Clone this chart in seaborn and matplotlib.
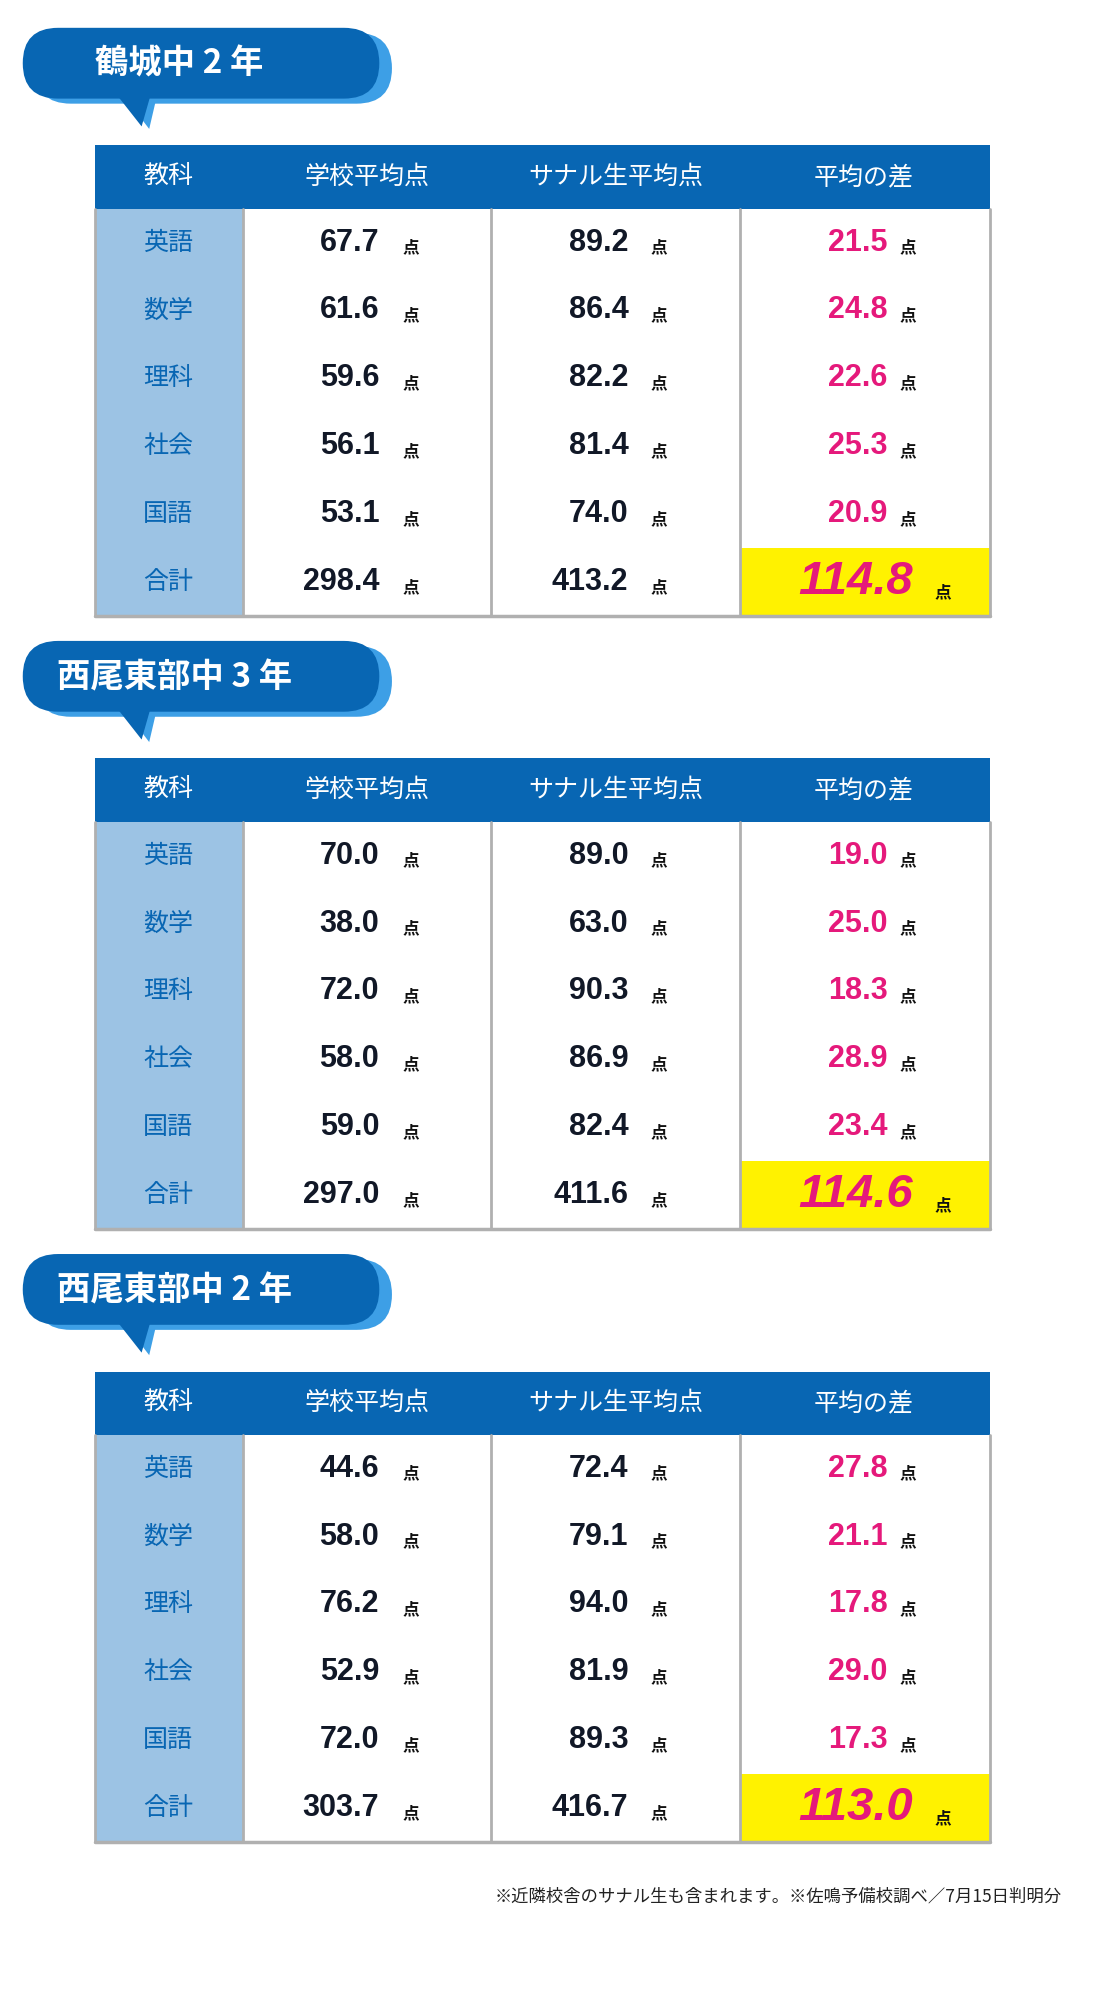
import matplotlib
matplotlib.use("Agg")
import matplotlib.pyplot as plt
import seaborn as sns
from matplotlib.patches import Rectangle, FancyBboxPatch, Polygon

sns.set_theme(style="white")
plt.rcParams['font.family'] = ['Noto Sans CJK JP', 'DejaVu Sans']

titles = ["鶴城中 2 年", "西尾東部中 3 年", "西尾東部中 2 年"]
headers = ["教科", "学校平均点", "サナル生平均点", "平均の差"]
subjects = ["英語", "数学", "理科", "社会", "国語", "合計"]
school_avg = [[67.7, 61.6, 59.6, 56.1, 53.1, 298.4],
              [70.0, 38.0, 72.0, 58.0, 59.0, 297.0],
              [44.6, 58.0, 76.2, 52.9, 72.0, 303.7]]
sanaru_avg = [[89.2, 86.4, 82.2, 81.4, 74.0, 413.2],
              [89.0, 63.0, 90.3, 86.9, 82.4, 411.6],
              [72.4, 79.1, 94.0, 81.9, 89.3, 416.7]]
diff = [[21.5, 24.8, 22.6, 25.3, 20.9, 114.8],
        [19.0, 25.0, 18.3, 28.9, 23.4, 114.6],
        [27.8, 21.1, 17.8, 29.0, 17.3, 113.0]]
footnote = "※近隣校舎のサナル生も含まれます。※佐鳴予備校調べ／7月15日判明分"

W, H = 870, 1575
fig = plt.figure(figsize=(11, 19.91), dpi=100)
ax = fig.add_axes([0, 0, 1, 1])
ax.set_xlim(0, W); ax.set_ylim(H, 0); ax.axis('off')

BLUE = "#0866b3"; LIGHT = "#3d9fe6"; SUBJ = "#9cc3e4"; PINK = "#e5197b"; GRID = "#b0b0b0"
cols = [75, 192, 388, 585, 783]
num = ['Liberation Sans', 'DejaVu Sans']

for t in range(3):
    by = 22 + t * 485
    # bubble
    ax.add_patch(FancyBboxPatch((28, by + 4), 282, 56, boxstyle="round,pad=0,rounding_size=28", fc=LIGHT, ec='none'))
    ax.add_patch(Polygon([[95, by + 50], [125, by + 50], [118, by + 80]], closed=True, fc=LIGHT, ec='none'))
    ax.add_patch(Polygon([[90, by + 50], [120, by + 50], [112, by + 78]], closed=True, fc=BLUE, ec='none'))
    ax.add_patch(FancyBboxPatch((18, by), 282, 56, boxstyle="round,pad=0,rounding_size=28", fc=BLUE, ec='none'))
    ax.text(45 if t else 75, by + 29, titles[t], color='white', fontsize=24, fontweight='bold', va='center', ha='left')

    ty = 115 + t * 485
    hh = 50; rh = 53.7
    ax.add_patch(Rectangle((cols[0], ty), cols[4] - cols[0], hh, fc=BLUE, ec='none'))
    for j, h in enumerate(headers):
        cx = [133, 290, 487, 683][j]
        ax.text(cx, ty + hh / 2, h, color='white', fontsize=18, va='center', ha='center')
    top = ty + hh
    ax.add_patch(Rectangle((cols[0], top), cols[1] - cols[0], rh * 6, fc=SUBJ, ec='none'))
    ax.add_patch(Rectangle((cols[3], top + rh * 5), cols[4] - cols[3], rh, fc="#fff200", ec='none'))
    for x in cols[1:4]:
        ax.plot([x, x], [top, top + rh * 6], color=GRID, lw=2)
    ax.plot([cols[0], cols[0]], [top, top + rh * 6], color=GRID, lw=2)
    ax.plot([cols[4], cols[4]], [top, top + rh * 6], color=GRID, lw=2)
    ax.plot([cols[0], cols[4]], [top + rh * 6, top + rh * 6], color=GRID, lw=2.5)
    for i, s in enumerate(subjects):
        cy = top + rh * (i + 0.5)
        ax.text(133, cy, s, color=BLUE, fontsize=18, va='center', ha='center')
        ax.text(300, cy, f"{school_avg[t][i]:.1f}", family=num, fontweight='bold', fontsize=22, color='#111827', va='center', ha='right')
        ax.text(325, cy + 4, "点", fontsize=12, fontweight='bold', color='#111', va='center', ha='center')
        ax.text(497, cy, f"{sanaru_avg[t][i]:.1f}", family=num, fontweight='bold', fontsize=22, color='#111827', va='center', ha='right')
        ax.text(521, cy + 4, "点", fontsize=12, fontweight='bold', color='#111', va='center', ha='center')
        if i < 5:
            ax.text(702, cy, f"{diff[t][i]:.1f}", family=num, fontweight='bold', fontsize=22, color=PINK, va='center', ha='right')
            ax.text(718, cy + 4, "点", fontsize=12, fontweight='bold', color='#111', va='center', ha='center')
        else:
            ax.text(722, cy, f"{diff[t][i]:.1f}", family=num, fontweight='bold', fontstyle='italic', fontsize=34, color=PINK, va='center', ha='right')
            ax.text(746, cy + 8, "点", fontsize=12, fontweight='bold', color='#111', va='center', ha='center')

ax.text(840, 1500, footnote, fontsize=12.5, color='#222', va='center', ha='right')
fig.savefig("out.png", dpi=100, facecolor='white')
